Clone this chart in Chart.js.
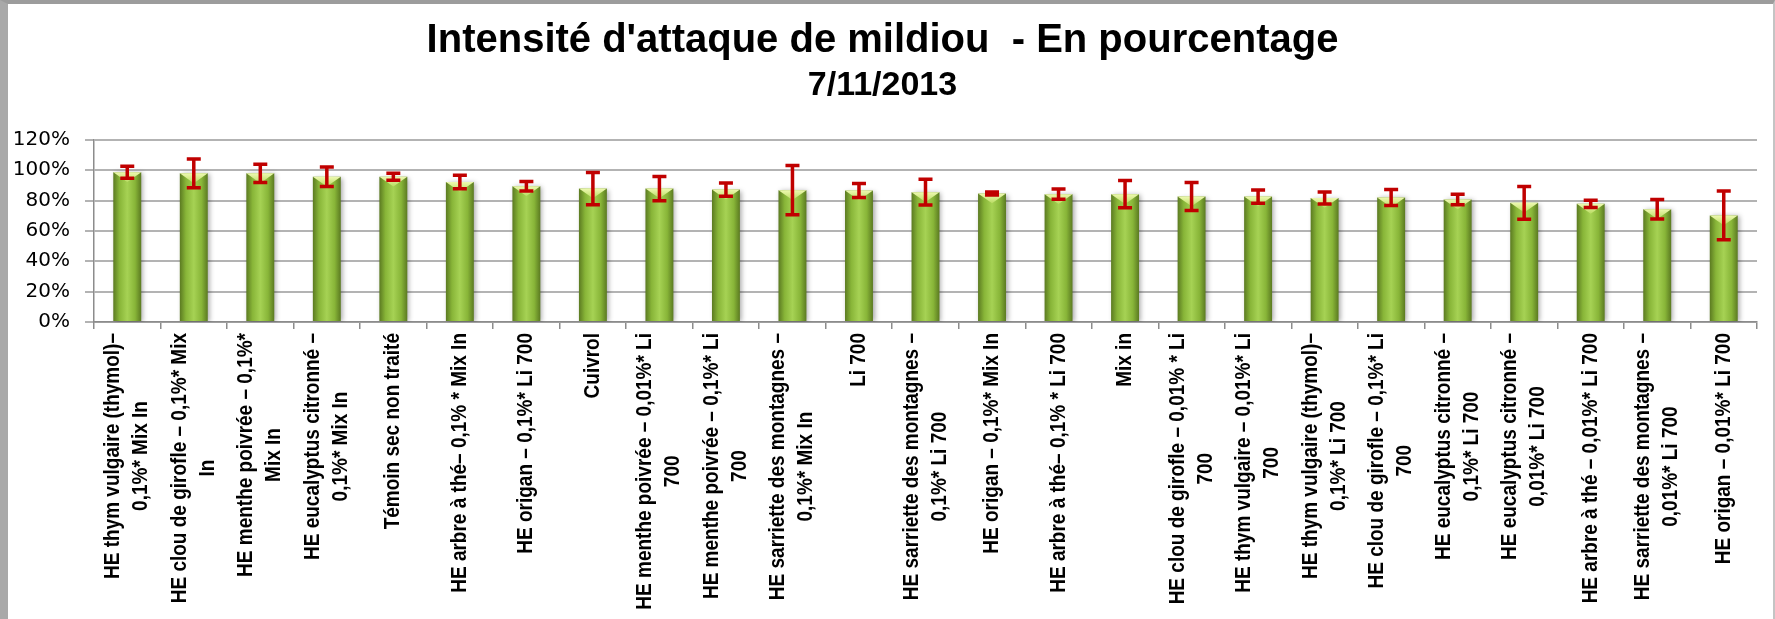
<!DOCTYPE html>
<html>
<head>
<meta charset="utf-8">
<script src="https://cdn.jsdelivr.net/npm/chart.js@4.4.1/dist/chart.umd.min.js"></script>
<style>
html,body{margin:0;padding:0;background:#fff;}
#frame{position:absolute;left:0;top:0;width:1775px;height:619px;box-sizing:border-box;
border-left:8px solid #a9a9a9;border-top:4px solid #9c9c9c;border-right:2px solid #c4c4c4;background:#fff;}
#c{display:block;}
</style>
</head>
<body>
<div id="frame"><canvas id="c" width="1765" height="615"></canvas></div>
<script>
// categories (each entry = lines of the label)
const categories=[
["HE thym vulgaire (thymol)–","0,1%* Mix In"],
["HE clou de girofle – 0,1%* Mix","In"],
["HE menthe poivrée – 0,1%*","Mix In"],
["HE eucalyptus citronné –","0,1%* Mix In"],
["Témoin sec non traité"],
["HE arbre à thé– 0,1% * Mix In"],
["HE origan – 0,1%* Li 700"],
["Cuivrol"],
["HE menthe poivrée – 0,01%* Li","700"],
["HE menthe poivrée – 0,1%* Li","700"],
["HE sarriette des montagnes –","0,1%* Mix In"],
["Li 700"],
["HE sarriette des montagnes –","0,1%* Li 700"],
["HE origan – 0,1%* Mix In"],
["HE arbre à thé– 0,1% * Li 700"],
["Mix in"],
["HE clou de girofle – 0,01% * Li","700"],
["HE thym vulgaire – 0,01%* Li","700"],
["HE thym vulgaire (thymol)–","0,1%* Li 700"],
["HE clou de girofle – 0,1%* Li","700"],
["HE eucalyptus citronné –","0,1%* Li 700"],
["HE eucalyptus citronné –","0,01%* Li 700"],
["HE arbre à thé – 0,01%* Li 700"],
["HE sarriette des montagnes –","0,01%* Li 700"],
["HE origan – 0,01%* Li 700"]
];

// intensity (%)
const intensity=[98.6,97.9,97.9,95.7,95.7,92.2,89.4,87.9,87.9,87.2,86.8,86.6,85.5,84.6,84.2,84.2,82.6,82.6,81.7,82.0,80.7,78.5,77.8,74.3,70.2];
// error (+/- %)
const errors=[4.0,9.4,6.0,6.4,2.3,4.4,3.2,10.6,8.0,4.4,16.2,4.6,8.5,1.0,3.4,9.0,9.2,4.4,4.0,5.2,3.4,10.8,2.4,6.4,16.0];

const titleText="Intensité d'attaque de mildiou  - En pourcentage";
const subtitleText="7/11/2013";

const BAR_PCT=0.42;

function barFill(c){
const ch=c.chart;
const a=ch.chartArea;
if(!a) return "#8ab83a";
const x=ch.scales.x.getPixelForValue(c.dataIndex);
const w=(a.right-a.left)/categories.length*BAR_PCT;
const g=ch.ctx.createLinearGradient(x-w/2,0,x+w/2,0);
g.addColorStop(0,"#5b7a21");
g.addColorStop(0.22,"#88b538");
g.addColorStop(0.5,"#a6d254");
g.addColorStop(0.78,"#88b538");
g.addColorStop(1,"#5b7a21");
return g;
}

const barShadow={
id:"barShadow",
beforeDatasetDraw(chart){
const ctx=chart.ctx;
ctx.save();
ctx.shadowColor="rgba(0,0,0,0.35)";
ctx.shadowBlur=5;
ctx.shadowOffsetX=2;
ctx.shadowOffsetY=1;
},
afterDatasetDraw(chart){
chart.ctx.restore();
}
};

const bevelAndErrors={
id:"bevelAndErrors",
afterDatasetsDraw(chart){
const ctx=chart.ctx;
const ys=chart.scales.y;
const meta=chart.getDatasetMeta(0);
ctx.save();
meta.data.forEach((el,i)=>{
const l=el.x-el.width/2, r=el.x+el.width/2;
const g=ctx.createLinearGradient(0,el.y,0,el.y+el.width*0.35);
g.addColorStop(0,"#eef9b0");
g.addColorStop(1,"#b9dc62");
ctx.fillStyle=g;
ctx.beginPath();
ctx.moveTo(l,el.y);
ctx.lineTo(r,el.y);
ctx.lineTo(el.x,el.y+el.width*0.35);
ctx.closePath();
ctx.fill();
});
ctx.strokeStyle="#c00000";
ctx.lineWidth=3.5;
meta.data.forEach((el,i)=>{
const yt=ys.getPixelForValue(intensity[i]+errors[i]);
const yb=ys.getPixelForValue(intensity[i]-errors[i]);
ctx.beginPath();
ctx.moveTo(el.x,yt);ctx.lineTo(el.x,yb);
ctx.moveTo(el.x-7,yt);ctx.lineTo(el.x+7,yt);
ctx.moveTo(el.x-7,yb);ctx.lineTo(el.x+7,yb);
ctx.stroke();
});
ctx.restore();
}
};

// rotated multi-line category labels, lines centred like in Excel
const xLabels={
id:"xLabels",
afterDraw(chart){
const ctx=chart.ctx;
const xs=chart.scales.x;
const top=chart.chartArea.bottom+11;
ctx.save();
ctx.font='bold 19px "Liberation Sans", Arial, sans-serif';
ctx.fillStyle="#000";
ctx.textAlign="center";
ctx.textBaseline="middle";
categories.forEach((lines,i)=>{
const w=Math.max(...lines.map(t=>ctx.measureText(t).width));
const cx=xs.getPixelForTick(i);
lines.forEach((t,j)=>{
ctx.save();
ctx.translate(cx+(j-(lines.length-1)/2)*28,top+w/2);
ctx.rotate(-Math.PI/2);
ctx.scale(1,1.15);
ctx.fillText(t,0,0);
ctx.restore();
});
});
ctx.restore();
}
};

new Chart(document.getElementById("c"),{
type:"bar",
data:{
labels:categories.map(l=>l.join(" ")),
datasets:[{
data:intensity,
backgroundColor:barFill,
borderWidth:0,
barPercentage:BAR_PCT,
categoryPercentage:1
}]
},
options:{
responsive:false,
animation:false,
layout:{padding:{left:0,right:16,top:0,bottom:0}},
plugins:{
legend:{display:false},
tooltip:{enabled:false},
title:{
display:true,
text:titleText,
color:"#000",
font:{family:'"Liberation Sans", Arial, sans-serif',size:40,weight:"bold",lineHeight:1.2},
padding:{top:13,bottom:0}
},
subtitle:{
display:true,
text:subtitleText,
color:"#000",
font:{family:'"Liberation Sans", Arial, sans-serif',size:34,weight:"bold",lineHeight:1.2},
padding:{top:0,bottom:34}
}
},
scales:{
x:{
ticks:{display:false},
grid:{drawOnChartArea:false,drawTicks:true,tickLength:7,color:"#8c8c8c",lineWidth:1.5},
border:{color:"#8c8c8c",width:1.5},
afterFit:s=>{s.height=297;}
},
y:{
min:0,max:120,
ticks:{stepSize:20,padding:15,color:"#000",
font:{family:'"DejaVu Sans", sans-serif',size:20},
callback:v=>v+"%"},
grid:{color:"#b3b3b3",lineWidth:2,tickLength:9},
border:{color:"#8c8c8c",width:1.5},
afterFit:s=>{s.width=86;}
}
}
},
plugins:[barShadow,bevelAndErrors,xLabels]
});
</script>
</body>
</html>
